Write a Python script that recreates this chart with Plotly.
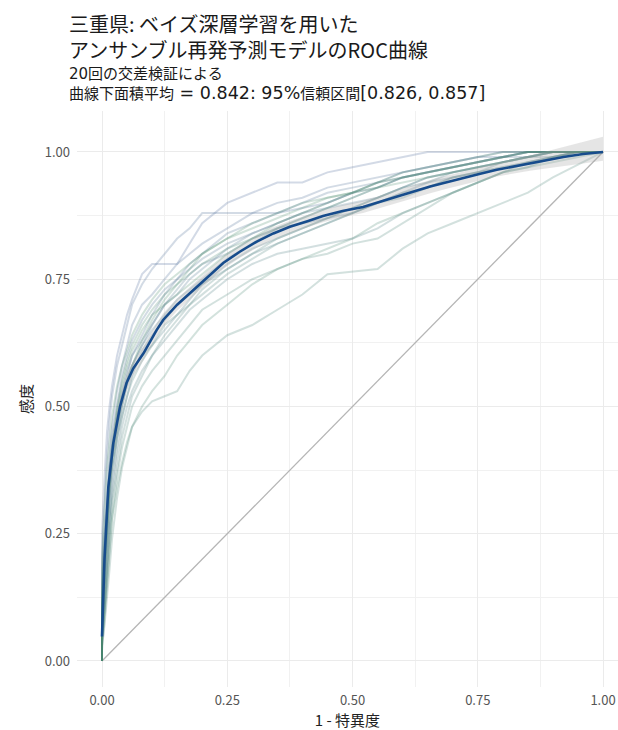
import plotly.graph_objects as go

# ---- data ----
fold_fpr = [0, 0, .005, .01, .015, .02, .03, .04, .05, .06, .08, .10, .125, .15, .175, .20,
            .25, .30, .35, .40, .45, .50, .55, .60, .65, .70, .75, .80, .85, .90, .95, 1.0]

fold_tpr = [
    [0, .25, .36, .45, .50, .54, .60, .64, .68, .71, .76, .78, .78, .78, .82, .86, .90, .92, .94, .94, .96, .97, .98, .99, 1, 1, 1, 1, 1, 1, 1, 1],
    [0, .18, .30, .40, .47, .52, .58, .62, .66, .70, .74, .77, .80, .83, .85, .88, .88, .88, .88, .89, .90, .92, .94, .96, .97, .98, .99, 1, 1, 1, 1, 1],
    [0, .12, .24, .33, .40, .46, .53, .58, .62, .66, .70, .72, .75, .78, .80, .82, .85, .88, .90, .91, .93, .94, .95, .96, .97, .98, .99, .99, 1, 1, 1, 1],
    [0, .08, .20, .30, .38, .44, .50, .56, .60, .63, .67, .70, .73, .75, .78, .80, .84, .86, .88, .90, .92, .93, .94, .95, .96, .97, .98, .99, 1, 1, 1, 1],
    [0, .10, .22, .30, .35, .40, .48, .53, .57, .60, .64, .68, .72, .75, .77, .79, .82, .84, .86, .88, .90, .92, .93, .95, .96, .97, .98, .99, .99, 1, 1, 1],
    [0, .05, .15, .25, .33, .40, .47, .52, .56, .60, .63, .66, .70, .72, .75, .77, .81, .84, .86, .88, .89, .90, .91, .93, .95, .96, .97, .98, .99, 1, 1, 1],
    [0, .15, .25, .32, .38, .42, .48, .52, .55, .58, .62, .66, .70, .73, .76, .78, .80, .83, .85, .86, .87, .88, .90, .92, .94, .95, .96, .97, .98, .99, 1, 1],
    [0, .06, .14, .22, .30, .36, .44, .50, .55, .58, .62, .65, .68, .71, .73, .75, .79, .82, .85, .87, .89, .91, .93, .95, .96, .97, .98, .99, 1, 1, 1, 1],
    [0, .04, .10, .20, .28, .34, .42, .48, .52, .56, .61, .64, .67, .70, .72, .74, .78, .81, .83, .85, .87, .89, .91, .93, .94, .96, .97, .98, .99, .99, 1, 1],
    [0, .08, .18, .26, .32, .38, .45, .50, .54, .57, .60, .62, .65, .68, .71, .74, .77, .80, .82, .84, .86, .88, .90, .92, .93, .95, .96, .98, .99, 1, 1, 1],
    [0, .03, .10, .18, .25, .32, .40, .46, .50, .53, .57, .60, .63, .66, .69, .71, .75, .78, .80, .81, .82, .83, .85, .88, .90, .92, .94, .96, .98, .99, 1, 1],
    [0, .10, .20, .28, .34, .38, .44, .48, .52, .55, .59, .62, .66, .68, .70, .72, .76, .79, .82, .84, .86, .88, .90, .91, .93, .95, .96, .97, .98, .99, 1, 1],
    [0, .05, .12, .20, .26, .31, .38, .44, .48, .52, .56, .60, .64, .67, .70, .73, .77, .80, .83, .85, .87, .89, .91, .93, .95, .96, .97, .98, .99, 1, 1, 1],
    [0, .02, .08, .15, .22, .28, .36, .42, .46, .50, .54, .57, .60, .63, .66, .69, .72, .75, .77, .79, .80, .82, .83, .86, .89, .92, .94, .96, .97, .99, 1, 1],
    [0, .03, .07, .12, .18, .24, .32, .38, .42, .46, .49, .51, .52, .53, .57, .60, .64, .66, .69, .72, .76, .765, .77, .81, .84, .86, .88, .90, .92, .95, .975, 1],
    [0, .04, .10, .16, .22, .28, .34, .39, .43, .46, .50, .53, .56, .60, .63, .66, .70, .74, .77, .79, .81, .83, .86, .88, .90, .92, .94, .96, .97, .98, .99, 1],
    [0, .12, .22, .30, .36, .42, .50, .55, .59, .62, .66, .69, .72, .74, .76, .78, .81, .83, .85, .87, .89, .91, .93, .95, .96, .97, .98, .99, 1, 1, 1, 1],
    [0, .06, .16, .26, .34, .40, .46, .51, .55, .58, .63, .67, .71, .74, .77, .80, .83, .86, .88, .90, .91, .92, .93, .94, .95, .96, .97, .98, .99, 1, 1, 1],
    [0, .20, .30, .38, .43, .48, .54, .58, .61, .64, .68, .71, .74, .76, .78, .80, .83, .85, .87, .89, .91, .92, .94, .95, .96, .97, .98, .99, 1, 1, 1, 1],
    [0, .07, .17, .27, .35, .41, .49, .54, .58, .61, .65, .68, .70, .72, .74, .76, .80, .83, .86, .88, .90, .92, .94, .96, .97, .98, .99, 1, 1, 1, 1, 1],
]

mean_fpr = [0, .005, .0127, .0226, .036, .049, .0625, .0825, .109, .122, .15, .176, .20, .242, .275, .309,
            .342, .375, .41, .441, .48, .521, .555, .588, .62, .655, .69, .721, .755, .788, .82, .854,
            .89, .921, .96, 1.0]
mean_tpr = [.048, .20, .342, .428, .50, .546, .575, .604, .650, .670, .700, .723, .745, .782, .804, .824,
            .840, .853, .864, .874, .884, .892, .902, .912, .922, .932, .941, .948, .957, .965, .971, .978,
            .985, .990, .996, 1.0]
ci_lower = [.03, .17, .31, .40, .48, .53, .56, .59, .637, .657, .688, .711, .733, .770, .792, .812,
            .828, .841, .852, .862, .872, .880, .890, .900, .909, .919, .928, .935, .944, .952, .958, .963,
            .968, .972, .977, .983]
ci_upper = [.066, .23, .37, .455, .52, .562, .59, .618, .663, .683, .712, .735, .757, .794, .816, .836,
            .852, .865, .876, .886, .896, .904, .914, .924, .935, .945, .954, .961, .970, .978, .985, .993,
            1.002, 1.01, 1.02, 1.03]

diag = [0, 1]
tick_vals = [0, 0.25, 0.5, 0.75, 1.0]
tick_text = ["0.00", "0.25", "0.50", "0.75", "1.00"]

title_text = "三重県: ベイズ深層学習を用いた<br>アンサンブル再発予測モデルのROC曲線"
subtitle_lines = ["20回の交差検証による",
                  "曲線下面積平均<span style='font-size:17.5px'> = 0.842: 95%</span>信頼区間"
                  "<span style='font-size:17.5px'>[0.826, 0.857]</span>"]
x_title = "1 - 特異度"
y_title = "感度"

# ---- style ----
FONT = "Noto Sans CJK JP"
SUBFONT = "DejaVu Sans, Noto Sans CJK JP"
c0 = (72, 102, 150)
c1 = (72, 140, 104)
n = len(fold_tpr)


def fold_color(i, a=0.24):
    t = i / (n - 1)
    r, g, b = [round(c0[k] + (c1[k] - c0[k]) * t) for k in range(3)]
    return f"rgba({r},{g},{b},{a})"


fig = go.Figure()

fig.add_trace(go.Scatter(x=diag, y=diag, mode="lines",
                         line=dict(color="#b5b5b5", width=1.3), hoverinfo="skip"))

for i, tpr in enumerate(fold_tpr):
    fig.add_trace(go.Scatter(x=fold_fpr, y=tpr, mode="lines",
                             line=dict(color=fold_color(i), width=2)))

fig.add_trace(go.Scatter(x=mean_fpr, y=ci_upper, mode="lines",
                         line=dict(width=0, color="rgba(0,0,0,0)"), hoverinfo="skip"))
fig.add_trace(go.Scatter(x=mean_fpr, y=ci_lower, mode="lines", fill="tonexty",
                         fillcolor="rgba(170,170,170,0.3)",
                         line=dict(width=0, color="rgba(0,0,0,0)"), hoverinfo="skip"))

fig.add_trace(go.Scatter(x=mean_fpr, y=mean_tpr, mode="lines",
                         line=dict(color="#174c8c", width=2.6)))

W, H = 618, 730
L, R, T, B = 77, 0, 111, 43
ph = H - T - B
pw = W - L - R


def px_x(p):
    return (p - L) / pw


def px_y(p):
    return (H - B - p) / ph


axis_common = dict(
    tickvals=tick_vals, ticktext=tick_text,
    showgrid=True, gridcolor="#ebebeb", gridwidth=1.2,
    minor=dict(tickvals=[0.125, 0.375, 0.625, 0.875], showgrid=True,
               gridcolor="#f1f1f1", gridwidth=0.9, ticks=""),
    zeroline=False, showline=False, ticks="", automargin=False,
    tickfont=dict(family=FONT, size=13, color="#555555"),
    title_font=dict(family=FONT, size=15, color="#222222"),
)

annotations = [dict(text=title_text, xref="paper", yref="paper",
                    x=px_x(67), y=px_y(36),
                    xanchor="left", yanchor="middle", align="left", showarrow=False,
                    font=dict(family=FONT, size=20, color="#1a1a1a"))]
for k, line in enumerate(subtitle_lines):
    annotations.append(dict(text=line, xref="paper", yref="paper",
                            x=px_x(67), y=px_y(74 + 19 * k),
                            xanchor="left", yanchor="middle", align="left", showarrow=False,
                            font=dict(family=SUBFONT, size=15, color="#1a1a1a")))

fig.update_layout(
    width=W, height=H,
    margin=dict(l=L, r=R, t=T, b=B, pad=0),
    paper_bgcolor="white", plot_bgcolor="white",
    showlegend=False,
    font=dict(family=FONT),
    xaxis=dict(range=[-0.0499, 1.0299], title=dict(text=x_title, standoff=2),
               ticklabelstandoff=4, **axis_common),
    yaxis=dict(range=[-0.0511, 1.0805], title=dict(text=y_title, standoff=8),
               ticklabelstandoff=6, **axis_common),
    annotations=annotations,
)

fig.write_html("out.html",
               config={"displayModeBar": False},
               post_script="document.body.style.margin='0px';"
                           "document.body.style.overflow='hidden';")
